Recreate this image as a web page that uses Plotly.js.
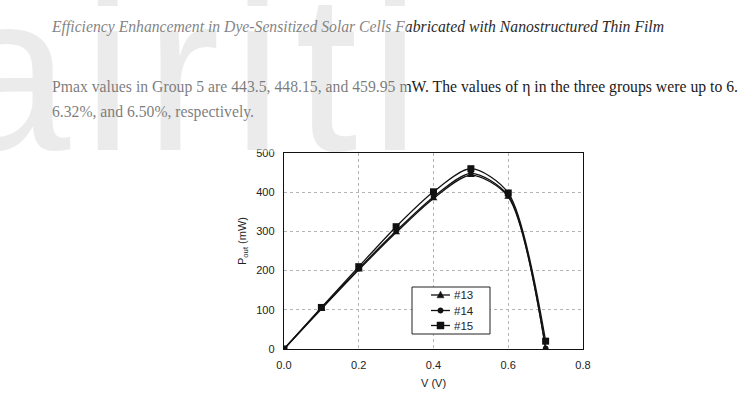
<!DOCTYPE html>
<html>
<head>
<meta charset="utf-8">
<script src="https://cdn.plot.ly/plotly-3.0.1.min.js"></script>
<style>
  html, body { margin: 0; padding: 0; background: #ffffff; }
  #page { position: relative; width: 742px; height: 409px; overflow: hidden; background: #ffffff; }
  #backdrop, #veil { position: absolute; left: 0; top: 0; }
  #chart { position: absolute; left: 0; top: 0; width: 742px; height: 409px; }
  #veil { pointer-events: none; }
</style>
</head>
<body>
<div id="page">
  <svg id="backdrop" width="742" height="409" xmlns="http://www.w3.org/2000/svg">
    <text x="-55" y="150" font-family="Liberation Sans, Arial, sans-serif" font-size="225"
          letter-spacing="12.5" fill="#dddddd">airiti</text>
    <text x="52" y="32" font-family="Liberation Serif, 'Times New Roman', serif" font-style="italic"
          font-size="15.7" fill="#2a2a2a">Efficiency Enhancement in Dye-Sensitized Solar Cells Fabricated with Nanostructured Thin Film</text>
    <text x="52" y="92" font-family="Liberation Serif, 'Times New Roman', serif"
          font-size="15.7" textLength="686" lengthAdjust="spacing" fill="#1a1a1a">Pmax values in Group 5 are 443.5, 448.15, and 459.95 mW. The values of η in the three groups were up to 6.</text>
    <text x="52" y="117" font-family="Liberation Serif, 'Times New Roman', serif"
          font-size="15.7" fill="#1a1a1a">6.32%, and 6.50%, respectively.</text>
  </svg>
  <div id="chart"></div>
  <svg id="veil" width="742" height="409" xmlns="http://www.w3.org/2000/svg">
    <rect x="0" y="0" width="407" height="152" fill="rgba(255,255,255,0.42)"></rect>
  </svg>
</div>
<script>
// Output power versus cell voltage for three cells of group 5
const voltage = [0.0, 0.1, 0.2, 0.3, 0.4, 0.5, 0.6, 0.7];
const power13 = [0, 102, 202, 297, 384, 443.5, 388, 1];
const power14 = [0, 104, 205, 301, 388, 448.15, 391, 2];
const power15 = [0, 106, 210, 312, 401, 459.95, 398, 20];
const seriesNames = ['#13', '#14', '#15'];
const xTicks = [0.0, 0.2, 0.4, 0.6, 0.8];
const xTickText = ['0.0', '0.2', '0.4', '0.6', '0.8'];
const yTicks = [0, 100, 200, 300, 400, 500];

const symbols = ['triangle-up', 'circle', 'square'];
const sizes = [7, 5.5, 7];
const powers = [power13, power14, power15];
const ink = '#111111';

const traces = powers.map((p, i) => ({
  x: voltage,
  y: p,
  name: seriesNames[i],
  type: 'scatter',
  mode: 'lines+markers',
  showlegend: false,
  line: { color: ink, width: 1.3, shape: 'spline', smoothing: 0.8 },
  marker: { symbol: symbols[i], size: sizes[i], color: ink }
}));

// Plot area in page pixels; used to place the framed key inside it
const plotL = 284, plotR = 583, plotT = 153, plotB = 349;
const px = v => (v - plotL) / (plotR - plotL);
const py = v => (plotB - v) / (plotB - plotT);

const axisFont = { family: 'Liberation Sans, Arial, sans-serif', size: 11, color: '#222222' };

// Framed key: box, one line sample + symbol + label per series
const keyBox = { left: 412, right: 490, top: 287, bottom: 334 };
const keyRows = [295, 310.5, 325.5];
const keyLine = [431, 450];
const keyMark = 440.5;

const shapes = [{
  type: 'rect', xref: 'paper', yref: 'paper', layer: 'above',
  x0: px(keyBox.left), x1: px(keyBox.right), y0: py(keyBox.bottom), y1: py(keyBox.top),
  line: { color: '#222222', width: 1 }, fillcolor: '#ffffff'
}];
const keyNotes = [];
keyRows.forEach((row, i) => {
  shapes.push({
    type: 'line', xref: 'paper', yref: 'paper', layer: 'above',
    x0: px(keyLine[0]), x1: px(keyLine[1]), y0: py(row), y1: py(row),
    line: { color: ink, width: 1.3 }
  });
  if (symbols[i] === 'triangle-up') {
    const h = 3.5;
    shapes.push({
      type: 'path', xref: 'paper', yref: 'paper', layer: 'above',
      path: `M ${px(keyMark - h)} ${py(row + h * 0.8)} L ${px(keyMark + h)} ${py(row + h * 0.8)} L ${px(keyMark)} ${py(row - h * 1.1)} Z`,
      fillcolor: ink, line: { color: ink, width: 0.5 }
    });
  } else if (symbols[i] === 'circle') {
    const r = 2.7;
    shapes.push({
      type: 'circle', xref: 'paper', yref: 'paper', layer: 'above',
      x0: px(keyMark - r), x1: px(keyMark + r), y0: py(row + r), y1: py(row - r),
      fillcolor: ink, line: { color: ink, width: 0.5 }
    });
  } else {
    const s = 3.5;
    shapes.push({
      type: 'rect', xref: 'paper', yref: 'paper', layer: 'above',
      x0: px(keyMark - s), x1: px(keyMark + s), y0: py(row + s), y1: py(row - s),
      fillcolor: ink, line: { color: ink, width: 0.5 }
    });
  }
  keyNotes.push({
    text: seriesNames[i], xref: 'paper', yref: 'paper',
    x: px(452), y: py(row), xanchor: 'left', yanchor: 'middle',
    showarrow: false, font: { ...axisFont, size: 11.5 }
  });
});

const gridStyle = { showgrid: true, gridcolor: '#b5b5b5', griddash: 'dot', gridwidth: 1 };

const layout = {
  width: 742,
  height: 409,
  margin: { l: plotL, r: 742 - plotR, t: plotT, b: 409 - plotB, pad: 0 },
  paper_bgcolor: 'rgba(0,0,0,0)',
  plot_bgcolor: 'rgba(0,0,0,0)',
  showlegend: false,
  font: axisFont,
  xaxis: {
    range: [0, 0.8],
    tickvals: xTicks,
    ticktext: xTickText,
    ...gridStyle,
    zeroline: false,
    showline: true,
    linecolor: ink,
    linewidth: 1.3,
    mirror: true,
    ticks: 'outside',
    ticklen: 5,
    tickcolor: 'rgba(0,0,0,0)',
    tickfont: axisFont,
    fixedrange: true
  },
  yaxis: {
    range: [0, 500],
    tickvals: yTicks,
    ...gridStyle,
    zeroline: false,
    showline: true,
    linecolor: ink,
    linewidth: 1.3,
    mirror: true,
    ticks: 'outside',
    ticklen: 6,
    tickcolor: 'rgba(0,0,0,0)',
    tickfont: axisFont,
    fixedrange: true
  },
  shapes: shapes,
  annotations: [
    {
      text: 'V (V)', xref: 'paper', yref: 'paper',
      x: 0.5, y: py(382.5), xanchor: 'center', yanchor: 'middle',
      showarrow: false, font: axisFont
    },
    {
      text: 'P<sub>out</sub> (mW)', xref: 'paper', yref: 'paper',
      x: px(243), y: py(241), xanchor: 'center', yanchor: 'middle',
      textangle: -90, showarrow: false, font: axisFont
    }
  ].concat(keyNotes)
};

Plotly.newPlot('chart', traces, layout, { displayModeBar: false, staticPlot: true });
</script>
</body>
</html>
